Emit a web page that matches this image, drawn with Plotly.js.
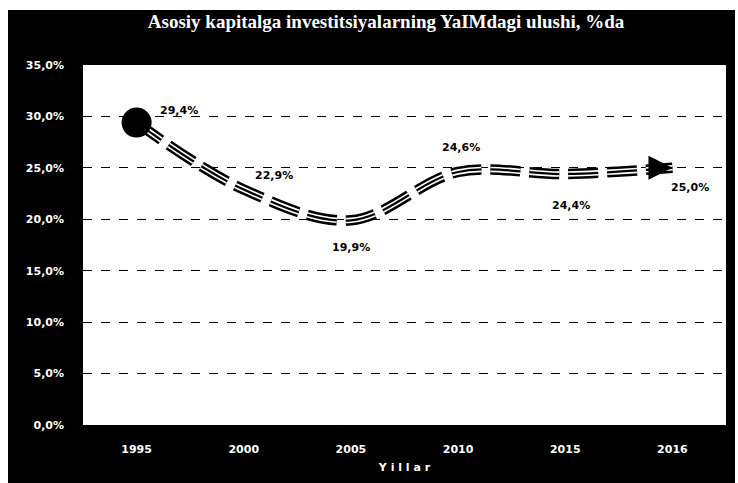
<!DOCTYPE html>
<html lang="en">
<head>
    <meta charset="UTF-8">
    <title>Asosiy kapitalga investitsiyalarning YaIMdagi ulushi</title>
    <script src='https://cdn.plot.ly/plotly-3.0.0.min.js'></script>
    <style>
        body { margin: 0; background: white; }
        #plot { position: absolute; left: 8px; top: 10px; width: 727px; height: 473px; }
    </style>
</head>
<body>
    <div id="plot"></div>

    <script>
        // Data
        const years = ['1995', '2000', '2005', '2010', '2015', '2016'];
        const share = [0.294, 0.229, 0.199, 0.246, 0.244, 0.250];

        // label offsets (px) so the value labels sit where they do in the picture
        const labelDx = [42, 30, 0, 3, 6, 18];
        const labelDy = [12, 14, -27, 24, -31, -20];

        const dash = '30px,9px';
        const white = 'white';

        // triple (compound) line: thick black, white inside, thin black middle
        const outer = {
            x: years, y: share, type: 'scatter', mode: 'lines',
            line: {shape: 'spline', color: 'black', width: 10.5, dash: dash},
            hoverinfo: 'skip', showlegend: false
        };
        const inner = {
            x: years, y: share, type: 'scatter', mode: 'lines',
            line: {shape: 'spline', color: 'white', width: 5.5, dash: dash},
            hoverinfo: 'skip', showlegend: false
        };
        const middle = {
            x: years, y: share, type: 'scatter', mode: 'lines',
            line: {shape: 'spline', color: 'black', width: 2.2, dash: dash},
            showlegend: false
        };
        // start dot and end arrow
        const ends = {
            x: [years[0], years[years.length - 1]],
            y: [share[0], share[share.length - 1]],
            type: 'scatter', mode: 'markers',
            marker: {
                color: 'black', opacity: 1,
                size: [30, 24],
                symbol: ['circle', 'arrow-right'],
                line: {width: 0}
            },
            hoverinfo: 'skip', showlegend: false
        };

        const fmt = v => (v * 100).toFixed(1).replace('.', ',') + '%';
        // category axis: annotation x is the category index
        const annotations = years.map((yr, i) => ({
            x: i, y: share[i], xref: 'x', yref: 'y',
            text: '<b>' + fmt(share[i]) + '</b>',
            showarrow: false,
            xshift: labelDx[i], yshift: labelDy[i],
            font: {family: 'DejaVu Sans', size: 11, color: 'black'}
        }));

        const layout = {
            paper_bgcolor: 'black',
            plot_bgcolor: 'white',
            separators: ', ',
            margin: {l: 75, r: 9, t: 55, b: 58},
            title: {
                text: 'Asosiy kapitalga investitsiyalarning YaIMdagi ulushi, %da',
                font: {family: 'Liberation Serif', size: 19, color: white, weight: 'bold'},
                x: 0.52, xanchor: 'center', y: 0.99, yanchor: 'top'
            },
            xaxis: {
                type: 'category',
                range: [-0.5, 5.5],
                showgrid: false, zeroline: false, showline: false,
                ticks: '',
                ticklabelstandoff: 16,
                tickfont: {family: 'DejaVu Sans', size: 11, color: white, weight: 'bold'},
                title: {
                    text: 'Y i l l a r',
                    font: {family: 'DejaVu Sans', size: 11, color: white, weight: 'bold'},
                    standoff: 8
                }
            },
            yaxis: {
                range: [0, 0.35],
                dtick: 0.05,
                tickformat: '.1%',
                showgrid: true,
                gridcolor: 'black', griddash: 'dash', gridwidth: 1,
                zeroline: false, showline: false,
                ticks: '',
                ticklabelstandoff: 18,
                tickfont: {family: 'DejaVu Sans', size: 11, color: white, weight: 'bold'}
            },
            annotations: annotations
        };

        Plotly.newPlot('plot', [outer, inner, middle, ends], layout, {displayModeBar: false});
    </script>
</body>
</html>
